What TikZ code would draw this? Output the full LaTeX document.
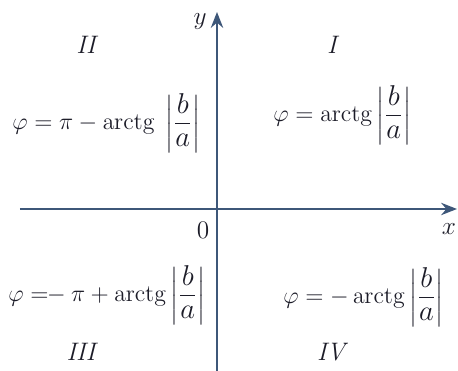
\documentclass[tikz,border=0pt]{standalone}
\usepackage{amsmath}
\usepackage{graphicx}
\usepackage{xcolor}
\usetikzlibrary{arrows.meta}
\definecolor{axisblue}{HTML}{3E5779}
\definecolor{inkdark}{HTML}{1C1C28}
\DeclareMathOperator{\arctgop}{arctg}
\newcommand{\ratioba}{\left|\frac{\mbox{\LARGE$b$}}{\mbox{\LARGE$a$}}\right|}
\newcommand{\fsmall}[1]{\scalebox{0.945}{$\displaystyle #1$}}

\begin{document}
\begin{tikzpicture}[x=0.02cm, y=-0.02cm, font=\Large, text=inkdark,
  axis/.style={draw=axisblue, line width=1.3pt, -{Stealth[length=9pt,width=7pt]}},
  quad/.style={font=\Large\itshape},
  formula/.style={anchor=west, inner sep=0pt}]
  \useasboundingbox (0,0) rectangle (458,371);
  % axes
  \coordinate (xstart) at (20,209);
  \coordinate (xend) at (457,209);
  \coordinate (ystart) at (217,371);
  \coordinate (yend) at (217,12);
  \draw[axis] (xstart) -- (xend);
  \draw[axis] (ystart) -- (yend);
  \node (ylabel) at (200,22) {$y$};
  \node (xlabel) at (449,229) {$x$};
  \node (origin) at (203,230) {$0$};
  % quadrant numbers
  \node[quad] (qone) at (332,45) {I};
  \node[quad] (qtwo) at (86,45) {II};
  \node[quad] (qthree) at (81,352) {III};
  \node[quad] (qfour) at (331,352) {IV};
  % angle formulas
  \node[formula] (ftwo) at (12,123) {\fsmall{\varphi=\pi-\arctgop\;\ratioba}};
  \node[formula] (fone) at (273,115) {\fsmall{\varphi=\arctgop\ratioba}};
  \node[formula] (fthree) at (8,295) {\fsmall{\varphi=\!\!-\:\pi+\arctgop\ratioba}};
  \node[formula] (ffour) at (283,297) {\fsmall{\varphi=-\arctgop\ratioba}};
\end{tikzpicture}
\end{document}
